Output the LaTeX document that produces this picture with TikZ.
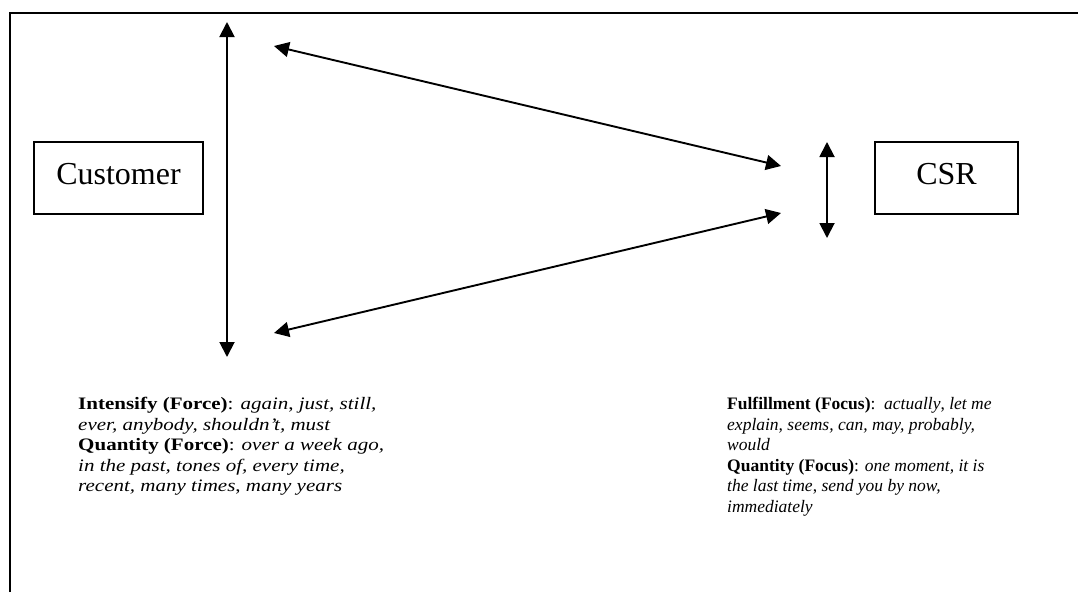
\documentclass[tikz,border=0pt]{standalone}
\usepackage{fontspec}
\setmainfont{Liberation Serif}
\usepackage{tikz}
\usetikzlibrary{arrows.meta,positioning}
\tikzset{
  frameline/.style={line width=2pt, black},
  party/.style={rectangle, draw=black, line width=1.8pt, minimum height=72pt,
                inner sep=0pt, text height=17pt, text depth=5pt,
                font=\fontsize{32}{36}\selectfont},
  twoway/.style={{Triangle[length=15pt,width=15pt]}-{Triangle[length=15pt,width=15pt]},
                 line width=1.9pt, black},
  cuelist/.style={anchor=north west, inner sep=0pt, align=left,
                  font=\fontsize{17.5}{20.6}\selectfont},
}

\begin{document}
\begin{tikzpicture}[x=1pt, y=-1pt]
\useasboundingbox (0,0) rectangle (1078,592);
% outer frame (cut at the right and bottom)
\coordinate (fbl) at (10,592);
\coordinate (ftl) at (10,13);
\coordinate (ftr) at (1078,13);
\draw[frameline] (fbl) -- (ftl) -- (ftr);
% the two parties
\node[party, minimum width=169pt] (cust) at (118.5,178) {Customer};
\node[party, minimum width=143pt] (csr) at (946.5,178) {CSR};
% arrow ends
\coordinate (ltop) at (227,22);
\coordinate (lbot) at (227,357);
\coordinate (utl) at (274,46);
\coordinate (utr) at (781,166);
\coordinate (lwr) at (781,213);
\coordinate (lwl) at (274,333);
\coordinate (rtop) at (827,142);
\coordinate (rbot) at (827,238);
\draw[twoway] (ltop) -- (lbot);
\draw[twoway] (utl) -- (utr);
\draw[twoway] (lwl) -- (lwr);
\draw[twoway] (rtop) -- (rbot);
% cue lists
\begin{scope}[shift={(78,397)}, xscale=1.2]
\node[cuelist, transform shape] (force) at (0,0) {%
  \textbf{Intensify (Force)}: \textit{again}, \textit{just, still,}\\
  \textit{ever, anybody, shouldn’t, must}\\
  \textbf{Quantity (Force)}: \textit{over a week ago,}\\
  \textit{in the past, tones of, every time,}\\
  \textit{recent, many times}, \textit{many years}};
\end{scope}
\node[cuelist] (focus) at (727,397) {%
  \textbf{Fulfillment (Focus)}:\ \ \textit{actually}, \textit{let me}\\
  \textit{explain, seems, can, may, probably,}\\
  \textit{would}\\
  \textbf{Quantity (Focus)}: \textit{one moment, it is}\\
  \textit{the last time}, \textit{send you by now,}\\
  \textit{immediately}};
\end{tikzpicture}
\end{document}
